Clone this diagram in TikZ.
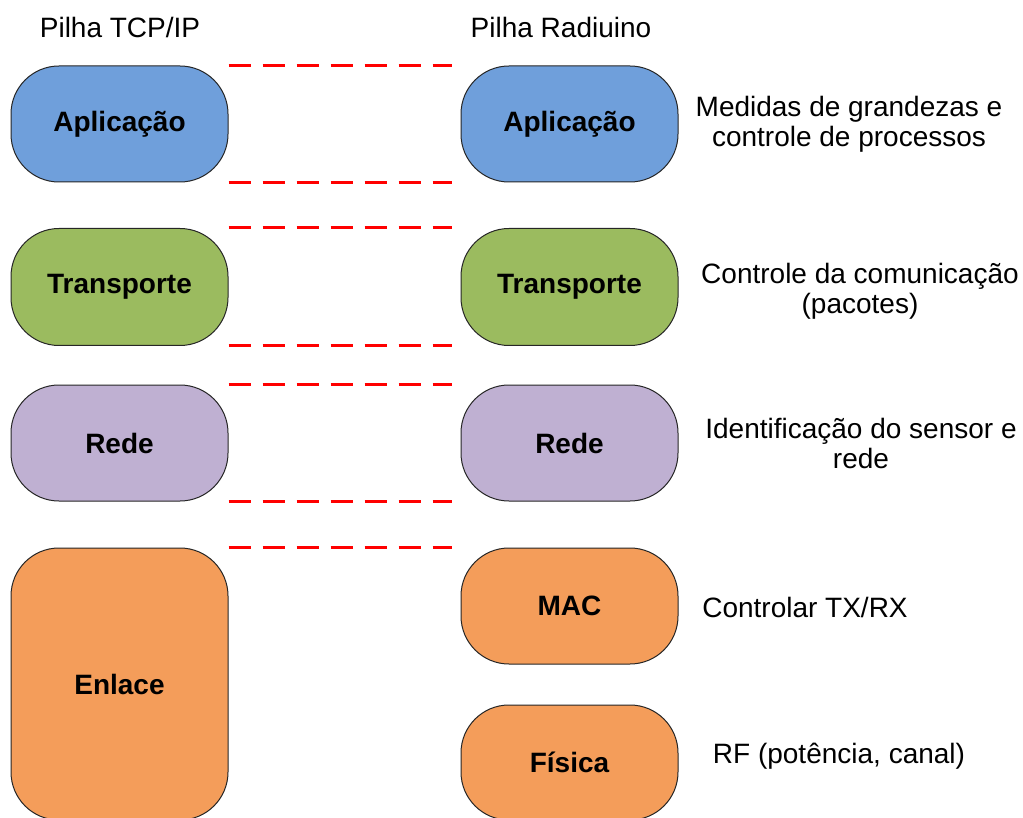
\documentclass[tikz,border=0pt]{standalone}
\usepackage{fontspec}
\setmainfont{Liberation Sans}
\definecolor{cblue}{RGB}{111,159,219}
\definecolor{cgreen}{RGB}{155,187,95}
\definecolor{cpurple}{RGB}{191,176,210}
\definecolor{corange}{RGB}{244,157,90}
\definecolor{cred}{RGB}{255,0,0}
\tikzset{
  layer/.style={draw=black!85, line width=1pt, rounded corners=48pt,
    font=\fontsize{28}{30}\selectfont\bfseries, inner sep=0pt,
    minimum width=217pt},
  txt/.style={font=\fontsize{28}{30}\selectfont, align=center, inner sep=0pt},
  link/.style={draw=cred, line width=3pt, dash pattern=on 22pt off 12pt},
}
\begin{document}
\begin{tikzpicture}[x=1pt,y=1pt]
\useasboundingbox (0,0) rectangle (1023,-818);
% titles
\node[txt] (t1) at (120,-27) {Pilha TCP/IP};
\node[txt] (t2) at (561,-27) {Pilha Radiuino};
% left stack
\node[layer, fill=cblue,   minimum height=116pt] (la) at (119.5,-124) {Aplicação};
\node[layer, fill=cgreen,  minimum height=117pt] (lt) at (119.5,-287) {Transporte};
\node[layer, fill=cpurple, minimum height=116pt] (lr) at (119.5,-443) {Rede};
\node[layer, fill=corange, minimum height=272pt] (le) at (119.5,-684) {Enlace};
% right stack
\node[layer, fill=cblue,   minimum height=116pt] (ra) at (569.5,-124) {Aplicação};
\node[layer, fill=cgreen,  minimum height=117pt] (rt) at (569.5,-287) {Transporte};
\node[layer, fill=cpurple, minimum height=116pt] (rr) at (569.5,-443) {Rede};
\node[layer, fill=corange, minimum height=116pt] (rm) at (569.5,-606) {MAC};
\node[layer, fill=corange, minimum height=115pt] (rf) at (569.5,-762.5) {Física};
% dashed links
\draw[link] (la.north east) -- ([xshift=-9pt]ra.north west);
\draw[link] (la.south east) -- ([xshift=-9pt]ra.south west);
\draw[link] (lt.north east) -- ([xshift=-9pt]rt.north west);
\draw[link] (lt.south east) -- ([xshift=-9pt]rt.south west);
\draw[link] (lr.north east) -- ([xshift=-9pt]rr.north west);
\draw[link] (lr.south east) -- ([xshift=-9pt]rr.south west);
\draw[link] (le.north east) -- ([xshift=-9pt]rm.north west);
% descriptions
\node[txt] (d1) at (849,-124) {Medidas de grandezas e\\controle de processos};
\node[txt] (d2) at (860,-291) {Controle da comunicação\\(pacotes)};
\node[txt] (d3) at (861,-443) {Identificação do sensor e\\rede};
\node[txt] (d4) at (805,-607) {Controlar TX/RX};
\node[txt] (d5) at (839,-756) {RF (potência, canal)};
\end{tikzpicture}
\end{document}
